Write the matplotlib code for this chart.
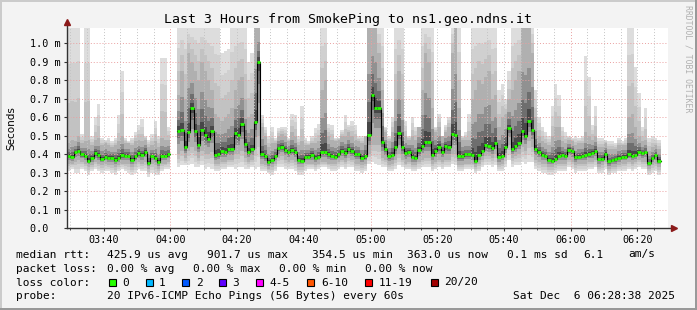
import numpy as np
import matplotlib.pyplot as plt
from matplotlib.patches import Rectangle

nan = np.nan
W, H = 697, 310

# one value per minute, first step starts at 03:29 (minutes after 03:00)
first_minute = 29

# median rtt (ms)
med_rtt = [
    0.393, 0.386, 0.413, 0.420, 0.400, 0.393, 0.366, 0.380, 0.407, 0.395,
    0.377, 0.387, 0.382, 0.382, 0.371, 0.380, 0.396, 0.391, 0.391, 0.371,
    0.389, 0.407, 0.398, 0.413, 0.353, 0.391, 0.380, 0.357, 0.391, 0.391,
    0.400, nan, nan, 0.528, 0.533, 0.438, 0.520, 0.650, 0.528, 0.452,
    0.533, 0.506, 0.485, 0.528, 0.395, 0.404, 0.420, 0.413, 0.430, 0.430,
    0.515, 0.506, 0.564, 0.456, 0.413, 0.430, 0.575, 0.900, 0.400, 0.389,
    0.357, 0.371, 0.393, 0.434, 0.441, 0.425, 0.413, 0.423, 0.413, 0.369,
    0.366, 0.387, 0.387, 0.398, 0.380, 0.387, 0.413, 0.413, 0.400, 0.393,
    0.387, 0.400, 0.420, 0.407, 0.430, 0.416, 0.400, 0.400, 0.380, 0.389,
    0.506, 0.720, 0.650, 0.650, 0.467, 0.430, 0.389, 0.398, 0.438, 0.515,
    0.441, 0.409, 0.413, 0.387, 0.380, 0.423, 0.447, 0.467, 0.467, 0.398,
    0.420, 0.441, 0.413, 0.445, 0.438, 0.510, 0.506, 0.389, 0.389, 0.400,
    0.400, 0.398, 0.366, 0.398, 0.420, 0.452, 0.443, 0.434, 0.463, 0.387,
    0.391, 0.441, 0.542, 0.430, 0.445, 0.463, 0.528, 0.500, 0.582, 0.533,
    0.430, 0.413, 0.398, 0.393, 0.371, 0.366, 0.377, 0.391, 0.398, 0.391,
    0.425, 0.416, 0.384, 0.387, 0.391, 0.395, 0.400, 0.409, 0.420, 0.375,
    0.377, 0.404, 0.362, 0.368, 0.373, 0.382, 0.387, 0.387, 0.400, 0.393,
    0.398, 0.413, 0.407, 0.411, 0.353, 0.380, 0.398, 0.366,
]

# fastest ping of each step (ms)
ping_min = [
    0.31, 0.32, 0.30, 0.30, 0.32, 0.31, 0.29, 0.31, 0.32, 0.31,
    0.30, 0.31, 0.31, 0.30, 0.29, 0.31, 0.32, 0.31, 0.30, 0.29,
    0.30, 0.32, 0.31, 0.31, 0.28, 0.30, 0.29, 0.29, 0.31, 0.32,
    0.32, nan, nan, 0.33, 0.34, 0.34, 0.34, 0.35, 0.33, 0.33,
    0.34, 0.32, 0.33, 0.32, 0.31, 0.31, 0.32, 0.32, 0.33, 0.33,
    0.32, 0.33, 0.33, 0.32, 0.32, 0.33, 0.32, 0.33, 0.31, 0.31,
    0.30, 0.29, 0.31, 0.33, 0.33, 0.32, 0.32, 0.32, 0.31, 0.29,
    0.29, 0.31, 0.32, 0.32, 0.31, 0.32, 0.33, 0.33, 0.32, 0.31,
    0.31, 0.32, 0.33, 0.32, 0.33, 0.33, 0.31, 0.31, 0.30, 0.31,
    0.35, 0.36, 0.35, 0.34, 0.33, 0.33, 0.31, 0.31, 0.32, 0.34,
    0.33, 0.32, 0.32, 0.31, 0.31, 0.32, 0.33, 0.33, 0.33, 0.31,
    0.32, 0.33, 0.32, 0.33, 0.33, 0.35, 0.34, 0.31, 0.31, 0.32,
    0.32, 0.32, 0.30, 0.31, 0.33, 0.34, 0.34, 0.33, 0.34, 0.31,
    0.31, 0.33, 0.37, 0.33, 0.34, 0.34, 0.36, 0.35, 0.36, 0.36,
    0.32, 0.31, 0.30, 0.30, 0.29, 0.29, 0.30, 0.31, 0.31, 0.31,
    0.33, 0.32, 0.30, 0.31, 0.31, 0.31, 0.32, 0.32, 0.33, 0.30,
    0.30, 0.32, 0.29, 0.30, 0.30, 0.31, 0.31, 0.31, 0.32, 0.31,
    0.32, 0.33, 0.32, 0.32, 0.29, 0.30, 0.31, 0.29,
]

# lower edge of the dense part of the smoke (ms)
ping_q1 = [
    0.35, 0.35, 0.36, 0.37, 0.36, 0.35, 0.33, 0.34, 0.36, 0.35,
    0.34, 0.35, 0.34, 0.34, 0.33, 0.34, 0.35, 0.35, 0.35, 0.33,
    0.35, 0.36, 0.35, 0.36, 0.32, 0.35, 0.34, 0.32, 0.35, 0.35,
    0.36, nan, nan, 0.40, 0.42, 0.38, 0.42, 0.44, 0.42, 0.38,
    0.42, 0.40, 0.40, 0.41, 0.35, 0.35, 0.36, 0.36, 0.37, 0.37,
    0.40, 0.40, 0.42, 0.38, 0.36, 0.37, 0.43, 0.50, 0.35, 0.34,
    0.32, 0.33, 0.35, 0.38, 0.39, 0.37, 0.36, 0.37, 0.36, 0.33,
    0.33, 0.35, 0.35, 0.35, 0.34, 0.35, 0.36, 0.36, 0.35, 0.35,
    0.35, 0.36, 0.37, 0.36, 0.38, 0.37, 0.35, 0.35, 0.34, 0.35,
    0.40, 0.45, 0.45, 0.45, 0.38, 0.37, 0.34, 0.35, 0.37, 0.40,
    0.37, 0.35, 0.36, 0.34, 0.34, 0.36, 0.37, 0.38, 0.38, 0.35,
    0.36, 0.37, 0.36, 0.37, 0.37, 0.40, 0.40, 0.34, 0.34, 0.35,
    0.35, 0.35, 0.33, 0.35, 0.37, 0.39, 0.39, 0.38, 0.40, 0.34,
    0.35, 0.38, 0.45, 0.38, 0.39, 0.40, 0.44, 0.42, 0.47, 0.44,
    0.37, 0.36, 0.35, 0.35, 0.33, 0.33, 0.34, 0.35, 0.35, 0.35,
    0.37, 0.36, 0.34, 0.35, 0.35, 0.35, 0.36, 0.36, 0.37, 0.33,
    0.34, 0.36, 0.32, 0.33, 0.33, 0.34, 0.35, 0.35, 0.36, 0.35,
    0.36, 0.37, 0.36, 0.36, 0.32, 0.34, 0.35, 0.33,
]

# upper edge of the dense part of the smoke (ms)
ping_q3 = [
    0.46, 0.48, 0.47, 0.50, 0.46, 0.47, 0.48, 0.45, 0.48, 0.49,
    0.45, 0.46, 0.45, 0.44, 0.45, 0.47, 0.50, 0.46, 0.46, 0.45,
    0.47, 0.48, 0.47, 0.48, 0.44, 0.45, 0.47, 0.44, 0.49, 0.48,
    0.48, nan, nan, 0.72, 0.85, 0.70, 0.95, 0.90, 0.85, 0.80,
    0.90, 0.85, 0.80, 0.75, 0.62, 0.60, 0.58, 0.60, 0.62, 0.65,
    0.75, 0.80, 0.82, 0.70, 0.60, 0.62, 1.10, 1.10, 0.55, 0.50,
    0.44, 0.46, 0.46, 0.50, 0.51, 0.50, 0.47, 0.52, 0.50, 0.45,
    0.47, 0.45, 0.45, 0.46, 0.46, 0.47, 0.75, 0.80, 0.50, 0.48,
    0.47, 0.48, 0.50, 0.50, 0.52, 0.50, 0.48, 0.47, 0.46, 0.50,
    1.10, 1.10, 1.10, 0.95, 0.75, 0.52, 0.47, 0.52, 0.70, 0.85,
    0.70, 0.50, 0.48, 0.50, 0.48, 0.55, 0.75, 0.95, 0.90, 0.65,
    0.52, 0.55, 0.50, 0.52, 0.55, 0.95, 1.10, 0.65, 0.48, 0.48,
    0.48, 0.70, 0.75, 0.80, 0.78, 0.82, 0.85, 0.70, 0.72, 0.55,
    0.60, 0.62, 0.70, 0.75, 0.80, 0.85, 1.10, 1.10, 1.10, 0.95,
    0.60, 0.50, 0.47, 0.46, 0.45, 0.50, 0.55, 0.55, 0.47, 0.46,
    0.48, 0.47, 0.45, 0.46, 0.46, 0.52, 0.50, 0.48, 0.50, 0.44,
    0.44, 0.46, 0.43, 0.43, 0.43, 0.45, 0.45, 0.45, 0.60, 0.62,
    0.55, 0.50, 0.47, 0.48, 0.42, 0.44, 0.45, 0.43,
]

# slowest ping of each step (ms), 1.10 = off the top of the graph
ping_max = [
    1.10, 1.10, 1.10, 1.10, 0.51, 1.10, 1.10, 0.50, 0.60, 0.67,
    0.49, 0.48, 0.49, 0.47, 0.49, 0.61, 0.85, 0.49, 0.47, 0.49,
    0.52, 0.56, 0.59, 0.50, 0.48, 0.51, 0.58, 0.50, 0.92, 0.92,
    0.55, nan, nan, 1.10, 1.10, 1.10, 1.10, 1.10, 1.10, 1.10,
    1.10, 1.10, 1.10, 1.10, 1.10, 1.10, 0.95, 0.96, 0.97, 1.10,
    1.10, 1.10, 1.10, 1.10, 0.90, 0.95, 1.10, 1.10, 0.61, 0.55,
    0.50, 0.55, 0.49, 0.54, 0.55, 0.55, 0.49, 0.62, 0.61, 0.50,
    0.66, 0.49, 0.47, 0.50, 0.54, 0.565, 1.10, 1.10, 0.565, 0.56,
    0.49, 0.49, 0.53, 0.61, 0.56, 0.58, 0.56, 0.50, 0.50, 0.50,
    1.10, 1.10, 1.10, 1.10, 1.10, 0.55, 0.50, 0.60, 1.10, 1.10,
    1.10, 0.58, 0.50, 0.60, 0.55, 0.50, 1.10, 1.10, 1.10, 1.10,
    0.55, 0.62, 0.50, 0.56, 0.60, 1.10, 1.10, 1.10, 0.50, 0.52,
    0.62, 1.10, 1.10, 1.10, 1.10, 1.10, 1.10, 1.10, 1.10, 0.75,
    0.78, 0.70, 0.85, 1.10, 1.10, 1.10, 1.10, 1.10, 1.10, 1.10,
    0.75, 0.60, 0.55, 0.52, 0.50, 0.66, 0.78, 0.72, 0.55, 0.52,
    0.50, 0.49, 0.50, 0.49, 0.50, 0.93, 0.82, 0.56, 0.66, 0.49,
    0.49, 0.48, 0.47, 0.47, 0.46, 0.49, 0.47, 0.49, 1.10, 1.10,
    0.87, 0.73, 0.55, 0.65, 0.49, 0.50, 0.49, 0.48,
]

y_ticks = [0.0, 0.1, 0.2, 0.3, 0.4, 0.5, 0.6, 0.7, 0.8, 0.9, 1.0]
y_labels = ['0.0  ', '0.1 m', '0.2 m', '0.3 m', '0.4 m', '0.5 m',
            '0.6 m', '0.7 m', '0.8 m', '0.9 m', '1.0 m']
x_ticks = [40, 60, 80, 100, 120, 140, 160, 180, 200]
x_labels = ['03:40', '04:00', '04:20', '04:40', '05:00', '05:20',
            '05:40', '06:00', '06:20']

loss_labels = ['0', '1', '2', '3', '4-5', '6-10', '11-19', '20/20']
loss_colors = ['#26ff00', '#00b8ff', '#0059ff', '#5e00ff', '#ff00ff',
               '#ff5500', '#ff0000', '#a10000']

med = np.array(med_rtt)
lo = np.array(ping_min)
q1 = np.array(ping_q1)
q3 = np.array(ping_q3)
hi = np.array(ping_max)
n = len(med)
edges = np.arange(first_minute, first_minute + n + 1)

# contiguous runs of valid data
runs = []
valid = ~np.isnan(med)
i = 0
while i < n:
    if valid[i]:
        j = i
        while j < n and valid[j]:
            j += 1
        runs.append((i, j))
        i = j
    else:
        i += 1

mono = 'DejaVu Sans Mono'
fig = plt.figure(figsize=(W / 100, H / 100), dpi=100, facecolor='#f3f3f3')


def px(x, y):
    return x / W, 1 - y / H


ax = fig.add_axes([67 / W, (H - 228.3) / H, 601 / W, 200.3 / H])
ax.set_facecolor('white')
ax.set_xlim(29, 209.2)
ax.set_ylim(0, 1.083)
for s in ax.spines.values():
    s.set_visible(False)


def band(lower, upper, color):
    for a, b in runs:
        ax.fill_between(edges[a:b + 1], np.append(lower[a:b], lower[b - 1]),
                        np.append(upper[a:b], upper[b - 1]), step='post',
                        facecolor=color, edgecolor='none', linewidth=0,
                        antialiased=False, zorder=1)


# smoke, light outside to dark near the median
for t, c in [(0.0, '#dddddd'), (0.33, '#d0d0d0'), (0.66, '#c2c2c2')]:
    band(lo + (q1 - lo) * t, hi + (q3 - hi) * t, c)
band(q1, q3, '#b0b0b0')
for t, c in [(0.45, '#919191'), (0.7, '#6e6e6e'), (0.88, '#474747')]:
    band(q1 + (med - q1) * t, q3 + (med - q3) * t, c)

# grid
for v in y_ticks[1:]:
    ax.axhline(v, color='#eaa0a0', lw=0.7, ls=(0, (1, 2)), zorder=2)
for m in range(30, 210, 5):
    if m % 60 == 0:
        ax.axvline(m, color='#eaa0a0', lw=0.7, ls=(0, (1, 2)), zorder=2)
    else:
        ax.axvline(m, color='#c4c4c4', lw=0.7, ls=(0, (1, 2)), zorder=2)

# median
for a, b in runs:
    ax.step(edges[a:b + 1], np.append(med[a:b], med[b - 1]), where='post',
            color='black', lw=0.8, zorder=4)
ax.hlines(med, edges[:-1], edges[1:], colors=loss_colors[0], lw=2.0, zorder=5)

# axes with arrows
ax.plot([0, 0], [0, 1.025], transform=ax.transAxes, color='#333333', lw=1,
        clip_on=False, zorder=6)
ax.plot([0, 1.006], [0, 0], transform=ax.transAxes, color='#333333', lw=1,
        clip_on=False, zorder=6)
ax.plot([0], [1.03], marker='^', ms=4, color='#8b1a1a', transform=ax.transAxes,
        clip_on=False, zorder=7)
ax.plot([1.01], [0], marker='>', ms=4, color='#8b1a1a', transform=ax.transAxes,
        clip_on=False, zorder=7)

ax.set_yticks(y_ticks)
ax.set_yticklabels(y_labels, family=mono, fontsize=7.3)
ax.set_xticks(x_ticks)
ax.set_xticklabels(x_labels, family=mono, fontsize=7.3)
ax.set_xticks(range(30, 210, 5), minor=True)
ax.tick_params(axis='both', which='major', length=2, width=0.8,
               color='#333333', pad=2.5)
ax.tick_params(axis='x', which='minor', length=1.5, width=0.6, color='#333333')

fig.text(*px(11, 128), 'Seconds', rotation=90, ha='center', va='center',
         fontsize=7.5, family='DejaVu Sans')
fig.text(*px(348, 19.5), 'Last 3 Hours from SmokePing to ns1.geo.ndns.it',
         ha='center', va='center', fontsize=9.5, family=mono)
fig.text(*px(688, 59), 'RRDTOOL / TOBI OETIKER', rotation=270, ha='center',
         va='center', fontsize=5.9, family=mono, color='#b0b0b0')

# legend
leg = dict(fontsize=8.0, family=mono, va='center', ha='left')
y1, y2, y3, y4 = 254.5, 268.5, 282.5, 296
fig.text(*px(16, y1), 'median rtt:', **leg)
for x, s in [(107.3, '425.9 us avg'), (207.3, '901.7 us max'),
             (311.7, '354.5 us min'), (407.3, '363.0 us now'),
             (506.7, '0.1 ms sd'), (583.3, '6.1'), (628.3, 'am/s')]:
    fig.text(*px(x, y1), s, **leg)
fig.text(*px(16, y2), 'packet loss:', **leg)
for x, s in [(107.3, '0.00 % avg'), (193.3, '0.00 % max'),
             (279.3, '0.00 % min'), (365, '0.00 % now')]:
    fig.text(*px(x, y2), s, **leg)
fig.text(*px(16, y3), 'loss color:', **leg)
box_x = [109, 145.7, 182.3, 219, 255.7, 307.3, 365, 430.7]
for bx, lab, col in zip(box_x, loss_labels, loss_colors):
    fig.add_artist(Rectangle(px(bx, y3 + 3.5), 7 / W, 7 / H, facecolor=col,
                             edgecolor='black', lw=0.8,
                             transform=fig.transFigure))
    fig.text(*px(bx + 13.5, y3), lab, **leg)
fig.text(*px(16, y4), 'probe:', **leg)
fig.text(*px(107.3, y4), '20 IPv6-ICMP Echo Pings (56 Bytes) every 60s', **leg)
fig.text(*px(513.3, y4), 'Sat Dec  6 06:28:38 2025', **leg)

# 3d border
fig.add_artist(Rectangle((0, 1 - 2 / H), 1, 2 / H, facecolor='#cbcbcb',
                         edgecolor='none', transform=fig.transFigure))
fig.add_artist(Rectangle((0, 0), 2 / W, 1, facecolor='#cbcbcb',
                         edgecolor='none', transform=fig.transFigure))
fig.add_artist(Rectangle((1 - 2 / W, 0), 2 / W, 1, facecolor='#999999',
                         edgecolor='none', transform=fig.transFigure))
fig.add_artist(Rectangle((0, 0), 1, 2 / H, facecolor='#999999',
                         edgecolor='none', transform=fig.transFigure))

fig.savefig('out.png', dpi=100, facecolor=fig.get_facecolor())
